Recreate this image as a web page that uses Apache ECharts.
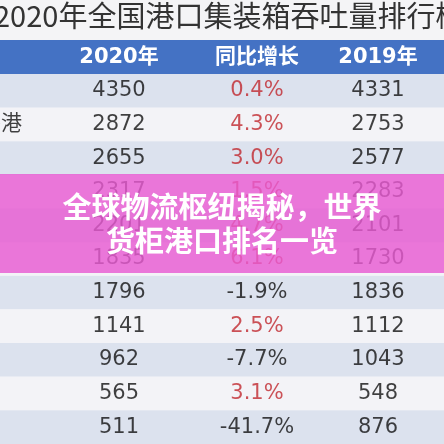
<!DOCTYPE html><html><head><meta charset="utf-8"><script src="https://cdn.jsdelivr.net/npm/echarts@6/dist/echarts.min.js"></script>
<style>html,body{margin:0;padding:0;background:#fff}#c{width:444px;height:444px}</style></head><body><div id="c"></div>
<script>
const ports=['','香港','','','','','','','','',''];
const v2020=[4350,2872,2655,2317,2201,1835,1796,1141,962,565,511];
const growth=[0.4,4.3,3.0,1.5,4.7,6.1,-1.9,2.5,-7.7,3.1,-41.7];
const v2019=[4331,2753,2577,2283,2101,1730,1836,1112,1043,548,876];
const headers=['2020年','同比增长','2019年'];
const rows=v2020.map((_,i)=>i);
const F='"DejaVu Sans","Noto Sans CJK SC",sans-serif';
const chart=echarts.init(document.getElementById('c'));
function col(x,vals,fmt,colorFn){return{type:'scatter',symbolSize:0,silent:true,z:3,
 data:vals.map((v,i)=>({value:[x,i],label:{color:colorFn(v)}})),
 label:{show:true,position:'inside',fontFamily:F,fontSize:21,formatter:p=>fmt(vals[p.dataIndex])}}}
chart.setOption({animation:false,
 grid:{left:0,right:0,top:74,height:372},
 xAxis:{type:'value',min:0,max:444,show:false},
 yAxis:{type:'category',data:rows,inverse:true,show:false},
 series:[
  {type:'bar',silent:true,barWidth:'100%',barGap:0,z:1,data:rows.map(i=>({value:444,itemStyle:{color:i%2?'#f3f3f7':'#dce2ee'}}))},
  col(119,v2020,String,()=>'#111'),
  col(257,growth,g=>g.toFixed(1)+'%',g=>g>0?'#c0282e':'#111'),
  col(378,v2019,String,()=>'#111'),
  {type:'scatter',symbolSize:0,silent:true,z:3,data:ports.map((p,i)=>[12,i]),
   label:{show:true,position:'inside',fontFamily:F,fontSize:21,color:'#111',align:'right',offset:[10,0],formatter:p=>ports[p.dataIndex]}}
 ],
 graphic:[
  {type:'rect',shape:{x:0,y:0,width:444,height:40},style:{fill:'#f4f4f6'},z:0},
  {type:'text',left:-6,top:1,style:{text:'2020年全国港口集装箱吞吐量排行榜',font:'29px "Noto Sans CJK SC",sans-serif',fill:'#333'},z:5},
  {type:'rect',shape:{x:0,y:40,width:444,height:34},style:{fill:'#4472c4'},z:5},
  ...headers.map((h,i)=>({type:'text',x:[119,257,378][i],y:58,style:{text:h,font:'bold 21px '+F,fill:'#fff',align:'center',verticalAlign:'middle'},z:6})),
  {type:'rect',shape:{x:0,y:174,width:444,height:99},style:{fill:'rgba(232,90,210,0.82)'},z:10},
  {type:'text',x:222,y:207,style:{text:'全球物流枢纽揭秘，世界',font:'bold 29px "Noto Sans CJK SC",sans-serif',fill:'#fff',align:'center',verticalAlign:'middle'},z:11},
  {type:'text',x:222,y:241,style:{text:'货柜港口排名一览',font:'bold 29px "Noto Sans CJK SC",sans-serif',fill:'#fff',align:'center',verticalAlign:'middle'},z:11}
 ]});
</script></body></html>
